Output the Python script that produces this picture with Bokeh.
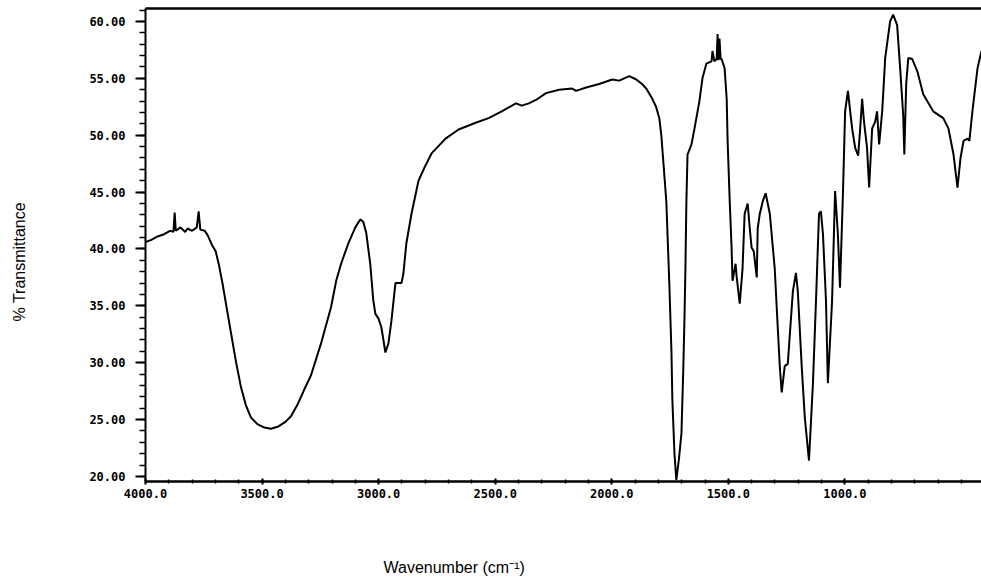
from bokeh.embed import file_html
from bokeh.models import (ColumnDataSource, FixedTicker, LinearAxis,
                          PrintfTickFormatter, Range1d, Title)
from bokeh.plotting import figure
from bokeh.resources import INLINE

# IR spectrum: wavenumber (cm-1) and percent transmittance
wavenumber = [
    4000, 3975, 3948, 3920, 3895, 3880, 3875, 3870, 3850, 3830, 3819, 3800,
    3780, 3772, 3765, 3746, 3733, 3716, 3699, 3685, 3669, 3650, 3634, 3612,
    3591, 3570, 3548, 3520, 3490, 3462, 3430, 3400, 3376, 3346, 3320, 3290,
    3247, 3204, 3182, 3161, 3130, 3100, 3079, 3066, 3053, 3036, 3023, 3014,
    3001, 2988, 2971, 2958, 2945, 2928, 2902, 2894, 2881, 2859, 2829, 2800,
    2773, 2713, 2657, 2584, 2528, 2472, 2411, 2386, 2356, 2325, 2282, 2226,
    2170, 2153, 2110, 2054, 1998, 1968, 1925, 1895, 1870, 1852, 1826, 1810,
    1796, 1787, 1766, 1753, 1744, 1740, 1731, 1723, 1712, 1701, 1693, 1688,
    1684, 1680, 1675, 1658, 1645, 1624, 1611, 1594, 1572, 1568, 1560, 1550,
    1546, 1542, 1538, 1533, 1529, 1516, 1507, 1503, 1494, 1486, 1482, 1469,
    1464, 1451, 1439, 1430, 1417, 1408, 1400, 1391, 1378, 1374, 1365, 1352,
    1340, 1322, 1301, 1288, 1279, 1271, 1258, 1245, 1223, 1210, 1202, 1185,
    1172, 1154, 1137, 1124, 1111, 1103, 1094, 1081, 1073, 1055, 1042, 1030,
    1021, 1008, 999, 987, 969, 956, 943, 935, 926, 918, 905, 896,
    883, 870, 862, 853, 840, 827, 806, 793, 776, 763, 750, 745,
    737, 728, 711, 689, 664, 621, 578, 556, 534, 517, 504, 491,
    474, 466, 453, 431, 414,
]
transmittance = [
    40.6, 40.8, 41.1, 41.3, 41.6, 41.5, 43.2, 41.6, 41.9, 41.5, 41.8, 41.6,
    41.9, 43.3, 41.7, 41.6, 41.2, 40.4, 39.8, 38.6, 36.9, 34.6, 32.7, 30.1,
    27.9, 26.3, 25.2, 24.6, 24.3, 24.2, 24.4, 24.8, 25.3, 26.4, 27.6, 28.9,
    31.7, 34.9, 37.2, 38.7, 40.5, 41.9, 42.6, 42.4, 41.4, 38.7, 35.5, 34.3,
    33.9, 33.1, 30.9, 31.7, 33.7, 37.0, 37.0, 37.8, 40.5, 43.1, 46.0, 47.3,
    48.4, 49.7, 50.5, 51.1, 51.5, 52.1, 52.8, 52.6, 52.8, 53.1, 53.7, 54.0,
    54.1, 53.9, 54.2, 54.5, 54.9, 54.8, 55.2, 54.9, 54.5, 54.1, 53.2, 52.5,
    51.5, 49.9, 44.2, 36.9, 31.0, 26.7, 22.0, 19.7, 21.5, 23.8, 29.6, 34.0,
    38.3, 44.0, 48.3, 49.2, 50.6, 53.0, 55.0, 56.3, 56.5, 57.4, 56.5, 56.7,
    58.9, 56.6, 58.5, 56.7, 56.7, 55.9, 53.2, 49.5, 44.2, 40.1, 37.2, 38.7,
    37.5, 35.2, 38.3, 43.1, 44.0, 41.8, 40.1, 39.8, 37.5, 41.8, 43.1, 44.2,
    44.9, 43.1, 38.3, 33.1, 29.6, 27.4, 29.7, 29.9, 36.3, 37.9, 36.3, 29.6,
    25.2, 21.4, 28.2, 35.4, 43.1, 43.3, 41.3, 35.4, 28.2, 35.4, 45.1, 41.3,
    36.6, 45.1, 52.1, 53.9, 50.6, 48.9, 48.2, 50.4, 53.2, 51.2, 48.9, 45.4,
    50.6, 51.2, 52.1, 49.2, 52.1, 56.8, 60.0, 60.6, 59.7, 55.9, 51.8, 48.3,
    54.5, 56.8, 56.7, 55.6, 53.6, 52.1, 51.5, 50.6, 48.3, 45.4, 48.0, 49.5,
    49.7, 49.5, 52.1, 55.9, 57.4,
]

y_major_ticks = [20, 25, 30, 35, 40, 45, 50, 55, 60]
y_minor_ticks = list(range(20, 62))
x_major_ticks = [4000, 3500, 3000, 2500, 2000, 1500, 1000]
x_minor_ticks = list(range(4000, 399, -100))

x_title = "Wavenumber (cm\u207b\u00b9)"
y_title = "% Transmittance"

source = ColumnDataSource(data=dict(wn=wavenumber, t=transmittance))

p = figure(
    width=981, height=584,
    x_range=Range1d(4000, 414), y_range=Range1d(19.56, 61.14),
    output_backend="svg", toolbar_location=None,
    min_border_left=145, min_border_right=0,
    min_border_top=8, min_border_bottom=103,
    background_fill_color="white", border_fill_color="white",
)
p.outline_line_color = None
p.grid.visible = False

p.line("wn", "t", source=source, line_color="black", line_width=2)

tick_font = "DejaVu Sans Mono"

yax = p.yaxis[0]
yax.ticker = FixedTicker(ticks=y_major_ticks, minor_ticks=y_minor_ticks)
yax.formatter = PrintfTickFormatter(format="%.2f")
yax.axis_line_width = 2
yax.major_tick_in = 0
yax.major_tick_out = 10
yax.minor_tick_in = 0
yax.minor_tick_out = 6
yax.major_tick_line_width = 2
yax.minor_tick_line_width = 1.5
yax.major_label_standoff = 10
yax.major_label_text_font = tick_font
yax.major_label_text_font_size = "12px"
yax.major_label_text_font_style = "bold"
yax.major_label_text_color = "black"

xax = p.xaxis[0]
xax.ticker = FixedTicker(ticks=x_major_ticks, minor_ticks=x_minor_ticks)
xax.formatter = PrintfTickFormatter(format="%.1f")
xax.axis_line_width = 2.5
xax.major_tick_in = 3
xax.major_tick_out = 3
xax.minor_tick_in = 2
xax.minor_tick_out = 2
xax.major_tick_line_width = 2
xax.minor_tick_line_width = 1.5
xax.major_label_standoff = 4
xax.major_label_text_font = tick_font
xax.major_label_text_font_size = "12px"
xax.major_label_text_font_style = "bold"
xax.major_label_text_color = "black"

# top frame line, no ticks
top = LinearAxis(
    ticker=FixedTicker(ticks=[], minor_ticks=[]),
    major_tick_line_color=None, minor_tick_line_color=None,
    major_label_standoff=0,
    axis_line_width=2.5, axis_line_color="black",
)
p.add_layout(top, "above")


def gap_axis(size, at):
    """Blank white axis that only reserves space between an axis and its title."""
    return LinearAxis(
        ticker=FixedTicker(ticks=[at], minor_ticks=[]),
        axis_line_color=None,
        major_tick_line_color="white", major_tick_line_width=1,
        minor_tick_line_color=None,
        major_tick_in=0, major_tick_out=size,
        minor_tick_in=0, minor_tick_out=0,
        major_label_text_color=None, major_label_text_font_size="1px",
        major_label_standoff=0, axis_label_standoff=0,
    )


p.add_layout(gap_axis(56, 1000), "below")
p.add_layout(Title(
    text=x_title, align="left", offset=238, standoff=0,
    text_font="Liberation Sans", text_font_size="16px",
    text_font_style="normal", text_color="black",
), "below")

p.add_layout(gap_axis(59, 58), "left")
p.add_layout(Title(
    text=y_title, align="left", offset=160, standoff=0,
    text_font="Liberation Sans", text_font_size="16px",
    text_font_style="normal", text_color="black",
), "left")

open("out.html", "w").write(file_html(p, INLINE))
